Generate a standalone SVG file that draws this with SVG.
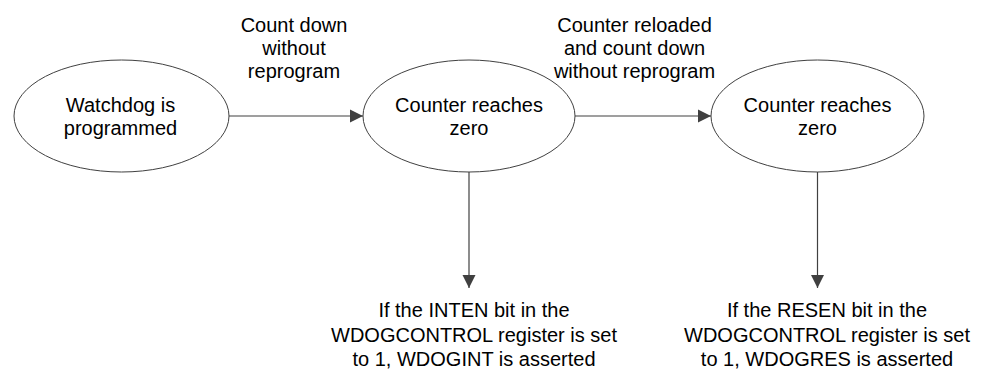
<svg xmlns="http://www.w3.org/2000/svg" width="982" height="372" viewBox="0 0 982 372">
  <style>
    .node ellipse { fill: #ffffff; stroke: #404040; stroke-width: 1; }
    text { font-family: "Liberation Sans", Arial, Helvetica, sans-serif; font-size: 20px; fill: #000000; text-anchor: middle; }
    .conn line { stroke: #404040; stroke-width: 1.2; fill: none; }
  </style>
  <defs>
    <marker id="arrow" markerUnits="userSpaceOnUse" markerWidth="14" markerHeight="14" viewBox="0 0 14 14" refX="13" refY="7" orient="auto">
      <path d="M0,0.5 L13,7 L0,13.5 z" fill="#404040"/>
    </marker>
  </defs>
  <rect width="982" height="372" fill="#ffffff"/>

  <g id="connectors" class="conn">
    <line x1="229" y1="116" x2="363" y2="116" marker-end="url(#arrow)"/>
    <line x1="575" y1="116" x2="711" y2="116" marker-end="url(#arrow)"/>
    <line x1="469" y1="172" x2="469" y2="288" marker-end="url(#arrow)"/>
    <line x1="817.5" y1="172" x2="817.5" y2="288" marker-end="url(#arrow)"/>
  </g>

  <g id="label-count-down">
    <text x="294" y="32">Count down</text>
    <text x="294" y="55">without</text>
    <text x="294" y="78">reprogram</text>
  </g>
  <g id="label-reloaded">
    <text x="634.5" y="32">Counter reloaded</text>
    <text x="634.5" y="55">and count down</text>
    <text x="634.5" y="78">without reprogram</text>
  </g>

  <g id="node-programmed" class="node">
    <ellipse cx="121.5" cy="116" rx="107.5" ry="56"/>
    <text x="120.5" y="112">Watchdog is</text>
    <text x="120.5" y="135">programmed</text>
  </g>
  <g id="node-zero-1" class="node">
    <ellipse cx="469" cy="116" rx="106" ry="56"/>
    <text x="469" y="112">Counter reaches</text>
    <text x="469" y="135">zero</text>
  </g>
  <g id="node-zero-2" class="node">
    <ellipse cx="817.5" cy="116" rx="106.5" ry="56"/>
    <text x="817.5" y="112">Counter reaches</text>
    <text x="817.5" y="135">zero</text>
  </g>

  <g id="result-inten">
    <text x="474" y="317">If the INTEN bit in the</text>
    <text x="474" y="341.5">WDOGCONTROL register is set</text>
    <text x="474" y="366">to 1, WDOGINT is asserted</text>
  </g>
  <g id="result-resen">
    <text x="827" y="317">If the RESEN bit in the</text>
    <text x="827" y="341.5">WDOGCONTROL register is set</text>
    <text x="827" y="366">to 1, WDOGRES is asserted</text>
  </g>
</svg>
